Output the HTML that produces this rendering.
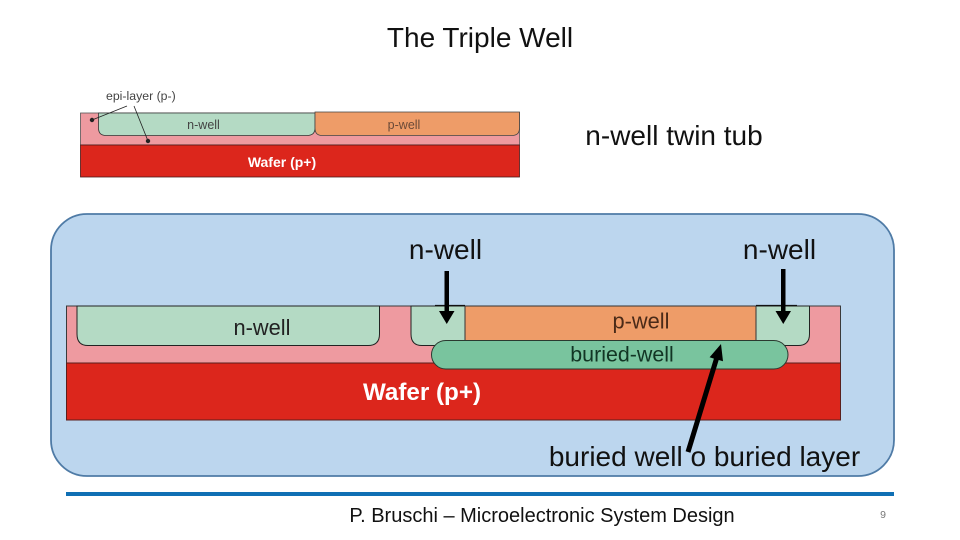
<!DOCTYPE html>
<html><head><meta charset="utf-8"><style>
html,body{margin:0;padding:0;background:#fff}
svg{display:block}
text{font-family:"Liberation Sans",sans-serif}
</style></head><body>
<svg width="960" height="540" viewBox="0 0 960 540" xmlns="http://www.w3.org/2000/svg">
<rect width="960" height="540" fill="#fff"/>
<text x="480" y="47" font-size="28" text-anchor="middle" fill="#111">The Triple Well</text>
<!-- top figure -->
<rect x="80.5" y="113" width="439" height="32" fill="#ee9aa0" stroke="#555" stroke-width=".8"/>
<rect x="80.5" y="145" width="439" height="32" fill="#dc261c" stroke="#4a1a18" stroke-width=".8"/>
<path d="M98.500 113V128Q98.500 135.500 106 135.500H307Q315 135.500 315 128V113Z" fill="#b4dac4" stroke="#333" stroke-width=".8"/>
<path d="M315 112V128Q315 135.500 322 135.500H512Q519.500 135.500 519.500 128V112Z" fill="#ee9c68" stroke="#444" stroke-width=".8"/>
<text x="203.500" y="129" font-size="12.500" text-anchor="middle" fill="#444">n-well</text>
<text x="404" y="129" font-size="12.500" text-anchor="middle" fill="#6b4a38">p-well</text>
<text x="282" y="167" font-size="14" font-weight="bold" text-anchor="middle" fill="#fff">Wafer (p+)</text>
<text x="106" y="100" font-size="12.300" fill="#444">epi-layer (p-)</text>
<path d="M92 120L127 106M134 106L148 141" stroke="#222" stroke-width=".8" fill="none"/>
<circle cx="92" cy="120" r="2.200" fill="#222"/><circle cx="148" cy="141" r="2.200" fill="#222"/>
<text x="674" y="145" font-size="28" text-anchor="middle" fill="#111">n-well twin tub</text>
<!-- panel -->
<rect x="51" y="214" width="843" height="262" rx="36" ry="36" fill="#bcd6ee" stroke="#4f7ba6" stroke-width="1.800"/>
<text x="445.500" y="259" font-size="28" text-anchor="middle" fill="#111">n-well</text>
<text x="779.500" y="259" font-size="28" text-anchor="middle" fill="#111">n-well</text>
<!-- main figure -->
<rect x="66.500" y="306" width="774" height="57" fill="#ee9aa0" stroke="#3a3a3a" stroke-width="1"/>
<rect x="66.500" y="363" width="774" height="57" fill="#dc261c" stroke="#5a1f1c" stroke-width="1"/>
<path d="M77 306V334Q77 345.500 88 345.500H368Q379.500 345.500 379.500 334V306Z" fill="#b4dac4" stroke="#222" stroke-width="1"/>
<path d="M411 306V334Q411 345.500 422 345.500H465V306Z" fill="#b4dac4" stroke="#222" stroke-width="1"/>
<path d="M756 306V345.500H798Q809.500 345.500 809.500 334V306Z" fill="#b4dac4" stroke="#222" stroke-width="1"/>
<rect x="465" y="306" width="291" height="35" fill="#ee9c68" stroke="#333" stroke-width="1"/>
<rect x="431.500" y="340.500" width="356.500" height="28.500" rx="14.250" ry="14.250" fill="#79c49e" stroke="#2a3a30" stroke-width="1"/>
<path d="M435 305.500H465M756 305.500H797" stroke="#111" stroke-width="1.200"/>
<text x="262" y="335" font-size="21.800" text-anchor="middle" fill="#222">n-well</text>
<text x="641" y="328.500" font-size="21.800" text-anchor="middle" fill="#4a2a18">p-well</text>
<text x="622" y="361.500" font-size="21.400" text-anchor="middle" fill="#123524">buried-well</text>
<text x="422" y="400" font-size="24.200" font-weight="bold" text-anchor="middle" fill="#fff">Wafer (p+)</text>
<!-- arrows -->
<path d="M444.500 271H449V311H454.500L446.750 324L439 311H444.500Z" fill="#000"/>
<path d="M781 269H785.500V311H791L783.250 324L775.500 311H781Z" fill="#000"/>
<path d="M685.600 451.300L713.900 358.600L709.600 357.300L721 344L723 361.300L718.700 360L690.400 452.700Z" fill="#000"/>
<text x="704.500" y="466" font-size="28" text-anchor="middle" fill="#111">buried well o buried layer</text>
<rect x="66" y="492" width="828" height="4" fill="#0f6fb4"/>
<text x="542" y="522" font-size="20" text-anchor="middle" fill="#111">P. Bruschi – Microelectronic System Design</text>
<text x="883" y="518" font-size="10.500" text-anchor="middle" fill="#777">9</text>
</svg>
</body></html>
